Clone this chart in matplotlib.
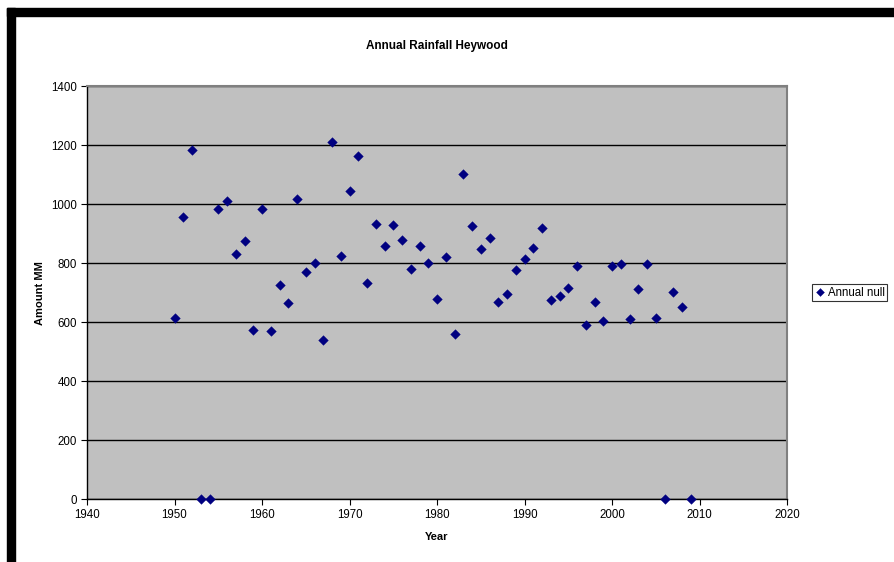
import matplotlib.pyplot as plt
from matplotlib.patches import Rectangle

plt.rcParams['font.family'] = ['Liberation Sans', 'DejaVu Sans']

# annual rainfall, mm (0 = no record for that year)
years = list(range(1950, 2010))
rainfall = [
    616, 957, 1183, 0, 0, 984, 1012, 832, 877, 575,
    985, 569, 725, 664, 1017, 769, 800, 541, 1212, 825,
    1046, 1165, 734, 933, 859, 930, 878, 780, 858, 800,
    679, 820, 561, 1102, 925, 850, 885, 669, 696, 776,
    816, 852, 920, 675, 690, 715, 791, 591, 669, 605,
    790, 797, 611, 712, 799, 613, 0, 704, 653, 0,
]
series_name = "Annual null"

W, H = 895, 562
fig = plt.figure(figsize=(W / 100, H / 100), dpi=100)

# plot area in pixel terms
x0, x1, y0, y1 = 87, 787, 86.3, 499.3
ax = fig.add_axes([x0 / W, 1 - y1 / H, (x1 - x0) / W, (y1 - y0) / H])
ax.set_facecolor('#C0C0C0')

ax.scatter(years, rainfall, marker='D', s=24, color='#000080',
           edgecolors='#000080', linewidths=0.3, label=series_name,
           zorder=3, clip_on=False)

ax.set_xlim(1940, 2020)
ax.set_ylim(0, 1400)
ax.set_xticks(range(1940, 2021, 10))
ax.set_yticks(range(0, 1401, 200))
ax.yaxis.grid(True, color='black', linewidth=1)
ax.set_axisbelow(True)
ax.tick_params(labelsize=8.3, length=4, width=0.8, direction='out',
               color='black', pad=3)

for side in ('top', 'right'):
    ax.spines[side].set_color('#808080')
    ax.spines[side].set_linewidth(1.5)
for side in ('left', 'bottom'):
    ax.spines[side].set_color('black')
    ax.spines[side].set_linewidth(1)

fig.text(437 / W, 1 - 46 / H, "Annual Rainfall Heywood", ha='center',
         va='center', fontsize=8.5, fontweight='bold')
fig.text(437 / W, 1 - 537 / H, "Year", ha='center', va='center',
         fontsize=8, fontweight='bold')
fig.text(40 / W, 1 - 293 / H, "Amount MM", ha='center', va='center',
         rotation=90, fontsize=8, fontweight='bold')

leg = ax.legend(loc='center left', bbox_to_anchor=(812 / W, 1 - 292.5 / H),
                bbox_transform=fig.transFigure, fontsize=8.3, frameon=True,
                fancybox=False, edgecolor='black', handletextpad=0.2,
                borderpad=0.25, handlelength=0.9, borderaxespad=0)
leg.get_frame().set_linewidth(0.8)
for h in leg.legend_handles:
    h.set_sizes([16])

# black frame bars along the top and left edges
fig.patches.append(Rectangle((7 / W, 1 - 16 / H), 1 - 7 / W, 8 / H,
                             transform=fig.transFigure, color='black'))
fig.patches.append(Rectangle((7 / W, 0), 8 / W, 1 - 8 / H,
                             transform=fig.transFigure, color='black'))

fig.savefig('out.png', dpi=100)
